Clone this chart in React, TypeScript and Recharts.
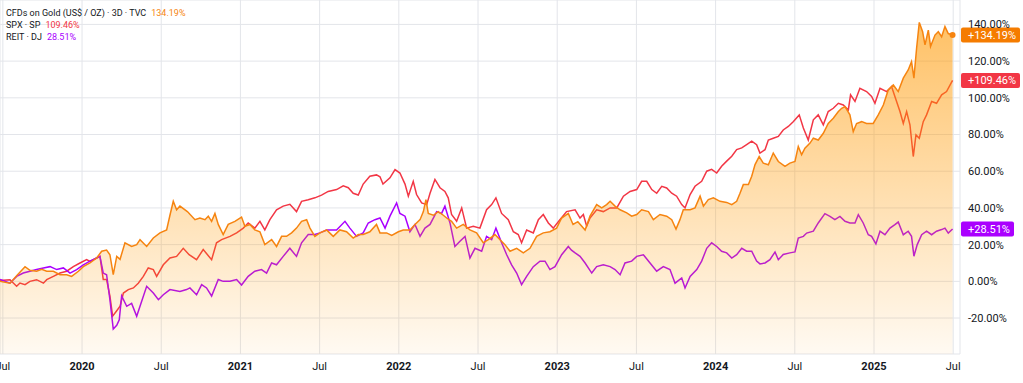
import React from 'react';
import {
  ComposedChart,
  Line,
  Area,
  XAxis,
  YAxis,
  CartesianGrid,
  ReferenceLine,
  ReferenceDot,
} from 'recharts';

const W = 1023;
const H = 383;
const FONT = 'Roboto, "Noto Sans", sans-serif';
const TEXT = '#131722';
const GOLD_C = '#F68410';
const GOLD_BADGE = '#F57C00';
const SPX_C = '#F23645';
const REIT_C = '#AA00FF';

const X_DOMAIN: [number, number] = [2019.482, 2025.543];
const Y_DOMAIN: [number, number] = [-39.6, 153.3];
const X_TICKS = [2019.5, 2020, 2020.5, 2021, 2021.5, 2022, 2022.5, 2023, 2023.5, 2024, 2024.5, 2025, 2025.5];
const Y_TICKS = [-20, 0, 20, 40, 60, 80, 100, 120, 140];

// [decimal year, % change]
const GOLD: [number, number][] = [
  [2019.482, 0], [2019.545, -1], [2019.587, 3], [2019.64, 8], [2019.671, 6], [2019.713, 5.5],
  [2019.745, 6.5], [2019.777, 5.5], [2019.819, 5.5], [2019.861, 3.6], [2019.903, 3.6], [2019.934, 2.7],
  [2019.977, 5.5], [2020.008, 8], [2020.05, 10], [2020.092, 12.7], [2020.124, 16.4], [2020.155, 17],
  [2020.176, 14.5], [2020.197, 3.6], [2020.219, 13.6], [2020.24, 12], [2020.271, 21], [2020.313, 19],
  [2020.345, 20], [2020.366, 22.7], [2020.408, 19], [2020.45, 23.6], [2020.492, 26.4], [2020.534, 28],
  [2020.555, 36], [2020.576, 43.6], [2020.597, 39], [2020.618, 41], [2020.665, 38], [2020.713, 33.6],
  [2020.744, 34.5], [2020.776, 33.6], [2020.797, 35.5], [2020.818, 32.7], [2020.839, 37], [2020.86, 31],
  [2020.891, 25.5], [2020.923, 31], [2020.965, 32.7], [2021.007, 35], [2021.028, 30], [2021.06, 31],
  [2021.091, 28], [2021.123, 27], [2021.154, 20], [2021.197, 22.7], [2021.228, 19], [2021.26, 24.5],
  [2021.291, 24.5], [2021.323, 26.4], [2021.354, 29], [2021.386, 32.7], [2021.418, 33.6], [2021.439, 29],
  [2021.47, 24.5], [2021.502, 26.4], [2021.544, 28], [2021.586, 24.5], [2021.628, 28], [2021.67, 27],
  [2021.712, 23.6], [2021.744, 25.5], [2021.775, 25.5], [2021.817, 27], [2021.859, 31], [2021.881, 26.4],
  [2021.923, 26.4], [2021.955, 25], [2021.997, 27], [2022.028, 28], [2022.07, 28], [2022.102, 31],
  [2022.134, 33.6], [2022.155, 38], [2022.171, 44.5], [2022.186, 37], [2022.218, 36], [2022.249, 38],
  [2022.281, 36], [2022.302, 34.5], [2022.333, 32.7], [2022.365, 29], [2022.407, 31], [2022.449, 28],
  [2022.491, 26.4], [2022.533, 21], [2022.565, 22.7], [2022.607, 25.5], [2022.639, 22.7], [2022.67, 20],
  [2022.702, 16.4], [2022.744, 18], [2022.786, 15.5], [2022.828, 18], [2022.87, 24.5], [2022.912, 26.4],
  [2022.954, 27], [2022.996, 29], [2023.028, 34.5], [2023.07, 37], [2023.1, 31], [2023.13, 32.5],
  [2023.176, 28], [2023.207, 35.5], [2023.249, 41.8], [2023.281, 40], [2023.312, 41.8], [2023.334, 43.6],
  [2023.365, 41], [2023.397, 39], [2023.439, 37.3], [2023.47, 35.5], [2023.502, 36.4], [2023.533, 39],
  [2023.576, 38], [2023.607, 33.6], [2023.649, 36.4], [2023.691, 35.5], [2023.723, 33.6], [2023.75, 28.5],
  [2023.775, 33.6], [2023.796, 39], [2023.839, 39], [2023.87, 40], [2023.902, 46.4], [2023.923, 41],
  [2023.954, 44.5], [2023.986, 45.5], [2024.028, 43.6], [2024.07, 43], [2024.102, 41.8], [2024.133, 43.6],
  [2024.154, 48], [2024.175, 52.7], [2024.207, 52.7], [2024.228, 57.3], [2024.249, 63.6], [2024.275, 68],
  [2024.301, 64.4], [2024.333, 63.5], [2024.364, 69.9], [2024.396, 65.3], [2024.438, 62.6], [2024.469, 64.4],
  [2024.501, 65.3], [2024.522, 73.5], [2024.543, 69], [2024.564, 72.6], [2024.596, 75.3], [2024.617, 78],
  [2024.648, 77], [2024.68, 80.7], [2024.711, 86], [2024.743, 88.9], [2024.775, 92.5], [2024.796, 94.3],
  [2024.817, 95.2], [2024.848, 90.7], [2024.869, 81.6], [2024.89, 86], [2024.922, 87], [2024.953, 86],
  [2024.995, 86], [2025.027, 90.7], [2025.059, 96.1], [2025.09, 104.3], [2025.122, 107], [2025.153, 103.4],
  [2025.185, 110.7], [2025.216, 115.2], [2025.237, 119.7], [2025.252, 110.7], [2025.269, 127], [2025.286, 141.1],
  [2025.307, 136], [2025.322, 128.8], [2025.343, 136.9], [2025.357, 128], [2025.385, 134.2], [2025.406, 136],
  [2025.427, 133.3], [2025.448, 138.8], [2025.469, 135], [2025.496, 134.19],
];

const SPX: [number, number][] = [
  [2019.482, 0.5], [2019.545, 0.9], [2019.587, -2.7], [2019.608, -0.9], [2019.64, -1.8], [2019.671, 0],
  [2019.713, 0.9], [2019.756, -1], [2019.777, 0.9], [2019.819, 2.7], [2019.861, 4.5], [2019.903, 5.5],
  [2019.945, 8], [2019.987, 10], [2020.029, 11.8], [2020.05, 10.9], [2020.092, 12.7], [2020.113, 13.6],
  [2020.134, 1], [2020.155, 1], [2020.176, -8], [2020.193, -19], [2020.219, -16], [2020.24, -13.6],
  [2020.261, -6.4], [2020.292, -4.5], [2020.324, -3.6], [2020.355, -1], [2020.387, 2.7], [2020.418, 7.3],
  [2020.45, 6.4], [2020.471, 2.7], [2020.513, 9], [2020.555, 12.7], [2020.597, 13.6], [2020.639, 18],
  [2020.676, 14.5], [2020.723, 11.8], [2020.765, 17.3], [2020.818, 11.8], [2020.849, 21], [2020.881, 22.7],
  [2020.934, 24.5], [2020.976, 26.4], [2021.018, 29], [2021.049, 31.8], [2021.091, 29], [2021.123, 32.7],
  [2021.154, 28], [2021.186, 33.6], [2021.228, 39], [2021.27, 41], [2021.312, 42], [2021.354, 38],
  [2021.386, 43.6], [2021.428, 44.5], [2021.47, 45.5], [2021.512, 47], [2021.554, 49], [2021.607, 50],
  [2021.649, 52], [2021.681, 51], [2021.712, 48], [2021.744, 47], [2021.775, 53], [2021.817, 57.3],
  [2021.859, 58], [2021.881, 57], [2021.9, 53], [2021.944, 56.4], [2021.976, 60.9], [2022.007, 59],
  [2022.039, 53], [2022.06, 46.4], [2022.091, 54.5], [2022.112, 47.3], [2022.144, 42.7], [2022.176, 41.8],
  [2022.197, 48], [2022.228, 55.5], [2022.26, 51], [2022.291, 49], [2022.312, 45.5], [2022.333, 36.4],
  [2022.365, 32.7], [2022.397, 40], [2022.428, 29], [2022.47, 30], [2022.512, 29], [2022.554, 39],
  [2022.586, 41.8], [2022.613, 45.5], [2022.649, 37], [2022.691, 33.6], [2022.723, 27], [2022.754, 25.5],
  [2022.775, 21], [2022.807, 28], [2022.849, 26.4], [2022.881, 33.6], [2022.912, 36.4], [2022.944, 31.8],
  [2022.975, 29], [2023.017, 33.6], [2023.059, 38], [2023.113, 39], [2023.144, 34.5], [2023.165, 36.4],
  [2023.186, 30], [2023.207, 34.5], [2023.249, 39], [2023.291, 38], [2023.334, 40], [2023.376, 40],
  [2023.418, 46.4], [2023.46, 49], [2023.502, 50], [2023.533, 54.5], [2023.565, 54.5], [2023.597, 50],
  [2023.628, 48], [2023.66, 51.8], [2023.691, 50.9], [2023.723, 48], [2023.754, 46.4], [2023.786, 41.8],
  [2023.807, 40], [2023.839, 47.3], [2023.87, 51.8], [2023.912, 54.5], [2023.944, 60], [2023.975, 61],
  [2024.007, 59], [2024.038, 62.7], [2024.07, 65.5], [2024.102, 68.2], [2024.133, 71.8], [2024.165, 72.7],
  [2024.196, 74.5], [2024.228, 76.4], [2024.259, 74.5], [2024.28, 69.9], [2024.312, 71.7], [2024.333, 77],
  [2024.364, 78], [2024.396, 79], [2024.427, 82.5], [2024.459, 84.4], [2024.49, 87], [2024.528, 90.7],
  [2024.554, 83.5], [2024.585, 77], [2024.617, 88], [2024.648, 90.7], [2024.68, 85.3], [2024.711, 92.5],
  [2024.743, 94.3], [2024.775, 97], [2024.806, 96.1], [2024.838, 93.4], [2024.852, 101.6], [2024.88, 98],
  [2024.911, 105.2], [2024.953, 103.4], [2024.985, 100.7], [2025.006, 97], [2025.038, 105.2], [2025.08, 103.4],
  [2025.111, 106.1], [2025.132, 100.7], [2025.164, 92.5], [2025.185, 86], [2025.206, 92.5], [2025.227, 85.3],
  [2025.248, 68], [2025.265, 79.8], [2025.286, 78], [2025.311, 87], [2025.332, 90.7], [2025.364, 98],
  [2025.395, 97], [2025.427, 101.6], [2025.458, 103.4], [2025.496, 109.46],
];

const REIT: [number, number][] = [
  [2019.482, 1], [2019.545, -1], [2019.587, 2.7], [2019.629, 4.5], [2019.671, 5.5], [2019.713, 6.4],
  [2019.756, 7.3], [2019.798, 8], [2019.84, 6.4], [2019.882, 7.3], [2019.924, 4.5], [2019.966, 6.4],
  [2020.008, 9], [2020.05, 11], [2020.092, 12.7], [2020.113, 13.6], [2020.134, 4.5], [2020.155, 3.6],
  [2020.176, -10], [2020.197, -26], [2020.219, -24], [2020.235, -21], [2020.25, -8], [2020.282, -13.6],
  [2020.313, -12], [2020.345, -19], [2020.366, -13.6], [2020.408, -2.7], [2020.45, -6.4], [2020.482, -10],
  [2020.513, -7.3], [2020.555, -4.5], [2020.618, -5.5], [2020.66, -4.5], [2020.681, -3.6], [2020.723, -7.3],
  [2020.755, -1.8], [2020.786, -3.6], [2020.818, -8], [2020.86, 1], [2020.891, 0], [2020.934, 0],
  [2020.976, 1], [2021.007, -2], [2021.049, 2.7], [2021.091, 5.5], [2021.133, 6.4], [2021.165, 4.5],
  [2021.197, 10], [2021.228, 9], [2021.27, 13.6], [2021.312, 18], [2021.354, 13.6], [2021.386, 21],
  [2021.428, 25.5], [2021.47, 25.5], [2021.502, 26.4], [2021.544, 28], [2021.607, 28], [2021.66, 32.7],
  [2021.691, 29], [2021.733, 24.5], [2021.775, 26.4], [2021.807, 31.8], [2021.849, 33.6], [2021.881, 34.5],
  [2021.913, 29], [2021.944, 35.5], [2021.986, 42.7], [2022.007, 37], [2022.039, 35.5], [2022.07, 27],
  [2022.102, 31], [2022.134, 24.5], [2022.165, 29], [2022.197, 31], [2022.239, 38], [2022.27, 37],
  [2022.291, 41], [2022.323, 31.8], [2022.354, 19], [2022.386, 21.8], [2022.418, 24.5], [2022.449, 12.7],
  [2022.481, 18], [2022.523, 16.4], [2022.554, 24.5], [2022.586, 22.7], [2022.613, 29], [2022.649, 21],
  [2022.681, 14.5], [2022.712, 9], [2022.744, 4.5], [2022.775, -1.8], [2022.807, 2.7], [2022.849, 8],
  [2022.891, 11], [2022.923, 11], [2022.954, 6.4], [2022.986, 8], [2023.028, 14.5], [2023.07, 19],
  [2023.09, 17], [2023.113, 15.5], [2023.144, 13.6], [2023.176, 10], [2023.218, 4.5], [2023.249, 8],
  [2023.291, 9], [2023.334, 8], [2023.365, 6.4], [2023.397, 3.6], [2023.428, 10], [2023.47, 11],
  [2023.502, 13.6], [2023.544, 14.5], [2023.586, 10], [2023.628, 5.5], [2023.67, 8], [2023.712, 6.4],
  [2023.744, -1], [2023.786, 1.8], [2023.807, -3.6], [2023.839, 2.7], [2023.881, 6.4], [2023.912, 11],
  [2023.944, 18], [2023.975, 21], [2024.007, 19], [2024.038, 16.4], [2024.07, 15.5], [2024.102, 12.7],
  [2024.133, 14.5], [2024.165, 18], [2024.196, 16.4], [2024.228, 16.4], [2024.259, 11], [2024.28, 9.5],
  [2024.312, 10], [2024.343, 11.8], [2024.375, 16], [2024.396, 11.8], [2024.427, 14.6], [2024.469, 15.5],
  [2024.501, 16], [2024.522, 23.6], [2024.554, 24.5], [2024.575, 26.3], [2024.617, 27.3], [2024.648, 31.8],
  [2024.69, 36.9], [2024.722, 35.4], [2024.753, 33.6], [2024.785, 35.4], [2024.817, 32.7], [2024.848, 31.8],
  [2024.88, 31.8], [2024.901, 36.3], [2024.932, 31.8], [2024.964, 25.4], [2024.985, 24.5], [2025.012, 20.4],
  [2025.038, 27.3], [2025.069, 25.4], [2025.101, 29], [2025.132, 30.9], [2025.153, 32.3], [2025.185, 25.4],
  [2025.216, 27.3], [2025.237, 24.5], [2025.252, 13.7], [2025.273, 20], [2025.301, 25.4], [2025.332, 27.3],
  [2025.364, 25.4], [2025.395, 27.3], [2025.427, 28.2], [2025.448, 29], [2025.469, 26.3], [2025.496, 28.51],
];

const LEGEND = [
  { name: 'CFDs on Gold (US$ / OZ) · 3D · TVC', color: GOLD_C, last: GOLD[GOLD.length - 1][1] },
  { name: 'SPX · SP', color: SPX_C, last: SPX[SPX.length - 1][1] },
  { name: 'REIT · DJ', color: REIT_C, last: REIT[REIT.length - 1][1] },
];

const rows = (a: [number, number][]) => a.map(([t, v]) => ({ t, v }));
const goldRows = rows(GOLD);
const spxRows = rows(SPX);
const reitRows = rows(REIT);

const XTick = (props: any) => {
  const { x, y, payload } = props;
  const v = payload.value as number;
  const isYear = Math.abs(v - Math.round(v)) < 0.01;
  return (
    <text
      x={x}
      y={y}
      dy="0.71em"
      textAnchor="middle"
      fontSize={11}
      fontWeight={isYear ? 700 : 400}
      fill={TEXT}
      fontFamily={FONT}
    >
      {isYear ? String(Math.round(v)) : 'Jul'}
    </text>
  );
};

const makeBadge = (value: number, color: string) => (props: any) => {
  const vb = props.viewBox || {};
  const text = '+' + value.toFixed(2) + '%';
  const x = (vb.x ?? 0) + (vb.width ?? 0) + 1;
  const y = vb.y ?? 0;
  const w = text.length * 6 + 11;
  return (
    <g>
      <rect x={x} y={y - 7.5} width={w} height={15} rx={2} fill={color} />
      <text x={x + 7} y={y} dy="0.36em" fontSize={11} fill="#ffffff" fontFamily={FONT}>
        {text}
      </text>
    </g>
  );
};

export default function App() {
  const lastGold = GOLD[GOLD.length - 1];
  const lastSpx = SPX[SPX.length - 1];
  const lastReit = REIT[REIT.length - 1];
  return (
    <div style={{ position: 'absolute', left: 0, top: 0, width: W, height: H, background: '#ffffff' }}>
      <ComposedChart width={W} height={H} margin={{ top: 0, right: 0, bottom: 0, left: 0 }}>
        <defs>
          <linearGradient id="goldFill" x1="0" y1="0" x2="0" y2="1">
            <stop offset="0%" stopColor="#FF9800" stopOpacity={0.6} />
            <stop offset="100%" stopColor="#FF9800" stopOpacity={0.05} />
          </linearGradient>
        </defs>
        <CartesianGrid stroke="#e3e5ea" strokeWidth={1} />
        <XAxis
          type="number"
          dataKey="t"
          domain={X_DOMAIN}
          ticks={X_TICKS}
          interval={0}
          allowDataOverflow
          height={29}
          axisLine={false}
          tickLine={false}
          tick={<XTick />}
        />
        <YAxis
          orientation="right"
          type="number"
          domain={Y_DOMAIN}
          ticks={Y_TICKS}
          interval={0}
          allowDataOverflow
          width={63}
          axisLine={false}
          tickLine={false}
          tick={{ fontSize: 11, fill: TEXT, fontFamily: FONT }}
          tickFormatter={(v: number) => v.toFixed(2) + '%'}
        />
        <Line
          data={spxRows}
          dataKey="v"
          type="linear"
          stroke={SPX_C}
          strokeWidth={1.5}
          dot={false}
          activeDot={false}
          isAnimationActive={false}
        />
        <Line
          data={reitRows}
          dataKey="v"
          type="linear"
          stroke={REIT_C}
          strokeWidth={1.5}
          dot={false}
          activeDot={false}
          isAnimationActive={false}
        />
        <Area
          data={goldRows}
          dataKey="v"
          type="linear"
          baseValue={Y_DOMAIN[0]}
          stroke={GOLD_C}
          strokeWidth={1.5}
          fill="url(#goldFill)"
          fillOpacity={1}
          dot={false}
          activeDot={false}
          isAnimationActive={false}
          zIndex={500}
        />
        <ReferenceDot x={lastGold[0]} y={lastGold[1]} r={3} fill={GOLD_C} stroke="none" ifOverflow="visible" />
        <ReferenceLine
          y={lastGold[1]}
          stroke="none"
          ifOverflow="visible"
          label={{ content: makeBadge(lastGold[1], GOLD_BADGE) }}
        />
        <ReferenceLine
          y={lastSpx[1]}
          stroke="none"
          ifOverflow="visible"
          label={{ content: makeBadge(lastSpx[1], SPX_C) }}
        />
        <ReferenceLine
          y={lastReit[1]}
          stroke="none"
          ifOverflow="visible"
          label={{ content: makeBadge(lastReit[1], REIT_C) }}
        />
      </ComposedChart>
      <div
        style={{
          position: 'absolute',
          left: 6,
          top: 7,
          fontFamily: FONT,
          fontSize: 9,
          lineHeight: '12px',
          color: TEXT,
          pointerEvents: 'none',
          whiteSpace: 'nowrap',
        }}
      >
        {LEGEND.map((l) => (
          <div key={l.name}>
            {l.name}
            <span style={{ color: l.color, marginLeft: 5 }}>{l.last.toFixed(2)}%</span>
          </div>
        ))}
      </div>
    </div>
  );
}
